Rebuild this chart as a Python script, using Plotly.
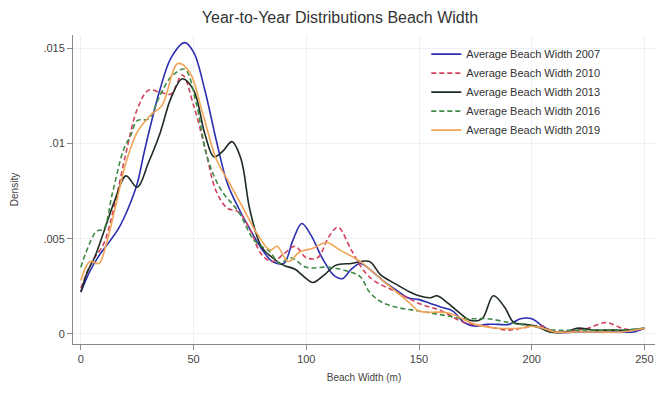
import plotly.graph_objects as go

# Kernel density estimates of average beach width, by survey year
x_2007 = [0, 4, 8, 13, 17, 21, 25, 28, 31, 35, 40, 46, 50, 55, 60, 65, 70, 75, 80, 85, 90, 94, 98, 102, 107, 112, 116, 120, 124, 130, 135, 140, 145, 150, 155, 160, 165, 170, 175, 180, 185, 190, 195, 200, 205, 210, 220, 230, 240, 245, 250]
y_2007 = [0.0022, 0.0033, 0.0041, 0.0049, 0.0056, 0.0066, 0.0079, 0.0095, 0.0110, 0.0128, 0.0145, 0.0153, 0.0148, 0.0128, 0.0102, 0.0079, 0.0066, 0.0055, 0.0045, 0.0038, 0.0037, 0.0049, 0.0058, 0.0052, 0.0040, 0.0031, 0.0029, 0.0034, 0.0037, 0.0032, 0.0027, 0.0023, 0.0019, 0.0018, 0.0016, 0.0014, 0.0012, 0.0006, 0.0004, 0.0005, 0.0005, 0.0005, 0.0008, 0.0008, 0.0004, 0.0001, 0.0001, 0.0001, 0.0001, 0.0001, 0.0003]

x_2010 = [0, 5, 10, 15, 20, 25, 30, 35, 40, 45, 50, 55, 60, 65, 70, 75, 80, 85, 90, 95, 100, 105, 110, 114, 120, 125, 130, 140, 150, 160, 170, 180, 190, 200, 205, 210, 220, 225, 233, 240, 245, 250]
y_2010 = [0.0024, 0.0038, 0.0047, 0.0068, 0.0095, 0.0118, 0.0128, 0.0127, 0.0126, 0.0136, 0.0120, 0.0098, 0.0075, 0.0066, 0.0064, 0.0055, 0.0042, 0.0038, 0.0042, 0.0046, 0.0040, 0.0040, 0.0051, 0.0056, 0.0044, 0.0034, 0.0028, 0.0022, 0.0016, 0.0012, 0.0006, 0.0004, 0.0002, 0.0004, 0.0004, 0.0001, 0.0002, 0.0003, 0.0006, 0.0003, 0.0002, 0.0003]

x_2013 = [0, 3, 6, 10, 15, 20, 25, 30, 35, 40, 45, 50, 55, 59, 63, 67, 71, 75, 80, 85, 90, 95, 100, 103, 108, 113, 120, 128, 133, 140, 146, 150, 155, 158, 163, 168, 173, 178, 183, 188, 192, 197, 202, 208, 215, 220, 228, 235, 242, 250]
y_2013 = [0.0022, 0.0033, 0.0040, 0.0053, 0.0070, 0.0083, 0.0077, 0.0090, 0.0105, 0.0124, 0.0134, 0.0128, 0.0105, 0.0093, 0.0096, 0.0101, 0.0092, 0.0065, 0.0046, 0.0040, 0.0036, 0.0034, 0.0029, 0.0027, 0.0031, 0.0036, 0.0037, 0.0038, 0.0031, 0.0026, 0.0022, 0.0020, 0.0019, 0.0020, 0.0016, 0.0011, 0.0007, 0.0008, 0.0020, 0.0014, 0.0006, 0.0005, 0.0004, 0.0001, 0.0001, 0.0003, 0.0002, 0.0002, 0.0002, 0.0003]

x_2016 = [0, 2, 7, 10, 14, 19, 22, 25, 30, 35, 40, 46, 51, 56, 62, 70, 77, 84, 88, 93, 100, 110, 118, 124, 128, 133, 140, 150, 160, 170, 180, 190, 195, 200, 210, 220, 230, 240, 250]
y_2016 = [0.0035, 0.0042, 0.0054, 0.0055, 0.0074, 0.0097, 0.0104, 0.0112, 0.0113, 0.0125, 0.0135, 0.0139, 0.0122, 0.0093, 0.0076, 0.0064, 0.0049, 0.0043, 0.0037, 0.0040, 0.0035, 0.0035, 0.0033, 0.0030, 0.0022, 0.0017, 0.0014, 0.0012, 0.0010, 0.0008, 0.0008, 0.0006, 0.0005, 0.0004, 0.0002, 0.0002, 0.0002, 0.0002, 0.0003]

x_2019 = [0, 4, 8, 11, 15, 20, 25, 31, 36, 43, 48, 54, 60, 66, 72, 78, 84, 87, 92, 97, 103, 109, 115, 124, 130, 138, 146, 150, 163, 175, 185, 195, 200, 205, 210, 220, 230, 240, 250]
y_2019 = [0.0028, 0.0038, 0.0037, 0.0046, 0.0065, 0.0090, 0.0106, 0.0115, 0.0120, 0.0142, 0.0138, 0.0116, 0.0092, 0.0079, 0.0066, 0.0053, 0.0044, 0.0046, 0.0038, 0.0043, 0.0045, 0.0048, 0.0044, 0.0038, 0.0032, 0.0024, 0.0016, 0.0012, 0.0011, 0.0005, 0.0003, 0.0003, 0.0004, 0.0003, 0.0001, 0.0001, 0.0001, 0.0001, 0.0003]

series = [
    ("Average Beach Width 2007", x_2007, y_2007, "#2b2fb0", "solid"),
    ("Average Beach Width 2010", x_2010, y_2010, "#d2405e", "5px,3px"),
    ("Average Beach Width 2013", x_2013, y_2013, "#1e2b22", "solid"),
    ("Average Beach Width 2016", x_2016, y_2016, "#3f8a45", "5px,3px"),
    ("Average Beach Width 2019", x_2019, y_2019, "#f0a656", "solid"),
]

fig = go.Figure()
for i, (name, xs, ys, color, dash) in enumerate(series):
    fig.add_trace(go.Scatter(
        x=xs, y=ys, mode="lines", name=name,
        line=dict(color=color, width=1.6, dash=dash, shape="spline", smoothing=1.0),
        legendrank=i + 1,
    ))

axis_common = dict(
    showline=True, linecolor="#8a8a8a", linewidth=1,
    ticks="outside", ticklen=5, tickcolor="#8a8a8a",
    tickfont=dict(family="Liberation Sans, Arial, sans-serif", size=11, color="#444444"),
    showgrid=True, gridcolor="#eef1f3", gridwidth=1,
    zeroline=False, mirror=False,
)

fig.update_layout(
    width=664, height=395,
    paper_bgcolor="white", plot_bgcolor="white",
    margin=dict(l=73, r=9, t=35, b=51),
    title=dict(
        text="Year-to-Year Distributions Beach Width",
        x=0.512, xanchor="center", y=0.955, yanchor="middle",
        font=dict(family="Liberation Sans, Arial, sans-serif", size=16, color="#333333"),
    ),
    xaxis=dict(
        range=[-3.5, 254.7], tickvals=[0, 50, 100, 150, 200, 250],
        title=dict(text="Beach Width (m)", standoff=9,
                   font=dict(family="Liberation Sans, Arial, sans-serif", size=10, color="#444444")),
        **axis_common,
    ),
    yaxis=dict(
        range=[-0.00053, 0.0157], tickvals=[0, 0.005, 0.01, 0.015],
        ticktext=["0", ".005", ".01", ".015"],
        title=dict(text="Density", standoff=22,
                   font=dict(family="Liberation Sans, Arial, sans-serif", size=10, color="#444444")),
        **axis_common,
    ),
    legend=dict(
        x=0.607, y=0.985, xanchor="left", yanchor="top",
        bgcolor="rgba(255,255,255,0)", borderwidth=0,
        font=dict(family="Liberation Sans, Arial, sans-serif", size=11, color="#333333"),
        tracegroupgap=0, itemwidth=30,
    ),
    showlegend=True,
)

fig.write_html("out.html")
